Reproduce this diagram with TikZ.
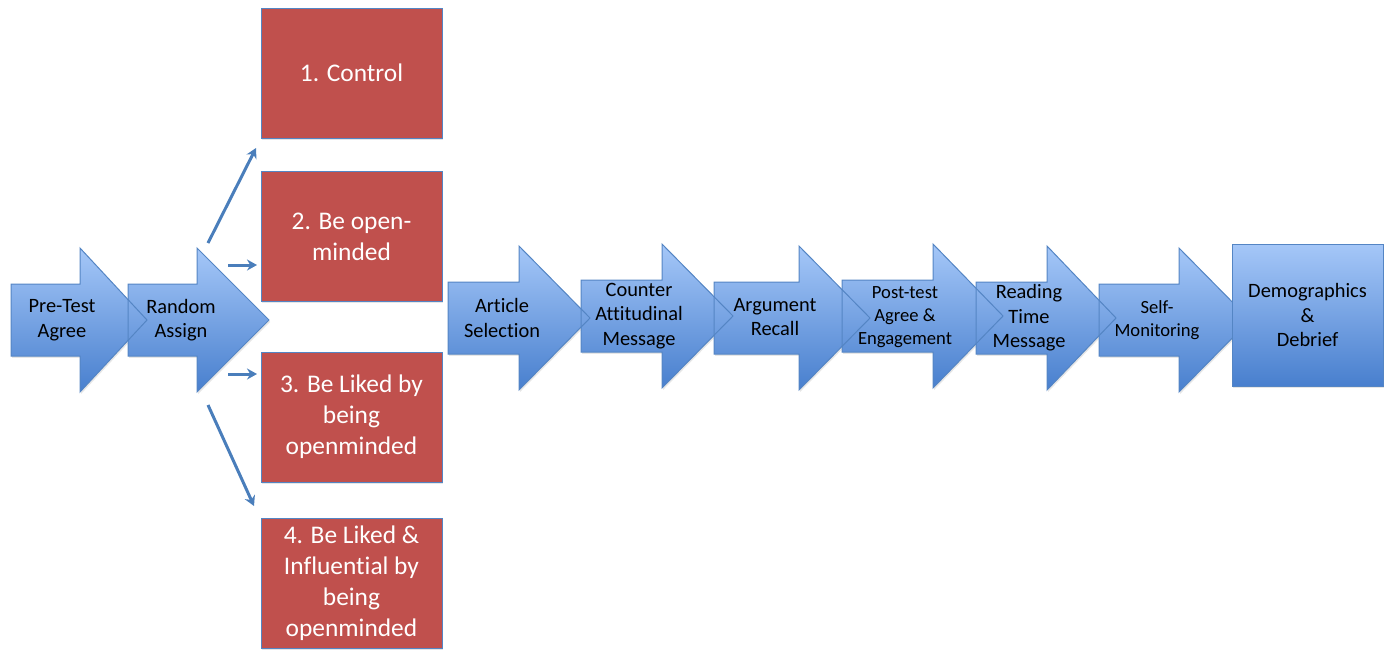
\documentclass[tikz,border=0pt]{standalone}
\usepackage{fontspec}
\setmainfont{Carlito}[Ligatures=NoCommon]
\usetikzlibrary{arrows.meta,shadows}

\definecolor{stagetop}{RGB}{165,199,248}
\definecolor{stagebot}{RGB}{72,127,206}
\definecolor{stageedge}{RGB}{84,133,196}
\definecolor{condred}{RGB}{192,80,77}
\definecolor{linkblue}{RGB}{74,126,187}

% tail x / head x / tip x / centre y of every step arrow (pixels)
\newcommand{\stagelist}{11/80/147/320, 128/197/269/320, 448/519/590/318,
  581/662/733/316, 714/799/870/318, 842/933/1003/316,
  976/1047/1116/318, 1099/1179/1250/320}

\begin{document}
\begin{tikzpicture}[x=0.5pt, y=-0.5pt, >={Stealth[length=5pt, width=5.5pt]},
    stagefill/.style={top color=stagetop, bottom color=stagebot,
      drop shadow={shadow xshift=0.6pt, shadow yshift=-0.9pt, opacity=0.2}},
    stagetext/.style={align=center, inner sep=0pt,
      font=\fontsize{10.2}{12.2}\selectfont},
    stagesmall/.style={stagetext, font=\fontsize{9.3}{11.6}\selectfont},
    demobox/.style={draw=stageedge, line width=0.5pt, top color=stagetop,
      bottom color=stagebot, minimum width=75.5pt, minimum height=71pt,
      inner sep=0pt, align=center, font=\fontsize{10.2}{12.2}\selectfont,
      drop shadow={shadow xshift=0.6pt, shadow yshift=-0.9pt, opacity=0.2}},
    condbox/.style={draw=stageedge, line width=0.5pt, fill=condred,
      text=white, minimum width=90.5pt, minimum height=65pt, inner sep=0pt,
      align=center, font=\fontsize{12.7}{15.5}\selectfont,
      drop shadow={shadow xshift=0.6pt, shadow yshift=-0.9pt, opacity=0.2}},
    link/.style={->, linkblue, line width=1.5pt}]
    \useasboundingbox (0,0) rectangle (1390,650);

    % Step arrows: fills first, then outlines so every tip stays visible.
    \foreach \l/\b/\t/\y in \stagelist
      \path[stagefill] (\l,\y-36) -- (\b,\y-36) -- (\b,\y-72) -- (\t,\y)
        -- (\b,\y+72) -- (\b,\y+36) -- (\l,\y+36) -- cycle;
    \foreach \l/\b/\t/\y in \stagelist
      \draw[stageedge, line width=0.5pt, line join=miter] (\l,\y-36) -- (\b,\y-36)
        -- (\b,\y-72) -- (\t,\y) -- (\b,\y+72) -- (\b,\y+36) -- (\l,\y+36) -- cycle;

    \node[stagetext] (pre) at (62,320) {Pre-Test\\Agree};
    \node[stagetext] (rand) at (181,320) {Random\\Assign};
    \node[stagetext] (art) at (502,318) {Article\\Selection};
    \node[stagetext] (cnt) at (639,316) {Counter\\Attitudinal\\Message};
    \node[stagetext] (arg) at (775,317) {Argument\\Recall};
    \node[stagesmall] (post) at (905,317) {Post-test\\Agree \&\\Engagement};
    \node[stagetext] (read) at (1029,318) {Reading\\Time\\Message};
    \node[stagesmall] (self) at (1157,320) {Self-\\Monitoring};
    \node[demobox] (demo) at (1307.5,315) {Demographics\\\&\\Debrief};

    % The four conditions.
    \node[condbox] (c1) at (351.5,73) {1. Control};
    \node[condbox] (c2) at (351.5,236.5) {2. Be open-\\minded};
    \node[condbox] (c3) at (351.5,417) {3. Be Liked by\\being\\openminded};
    \node[condbox] (c4) at (351.5,583) {4. Be Liked \&\\Influential by\\being\\openminded};

    \coordinate (r1) at (208,243);
    \coordinate (g1) at (256,148);
    \coordinate (r2) at (228,265);
    \coordinate (g2) at (257,265);
    \coordinate (r3) at (228,374);
    \coordinate (g3) at (257,374);
    \coordinate (r4) at (208,405);
    \coordinate (g4) at (254,506);
    \draw[link] (r1) -- (g1);
    \draw[link] (r2) -- (g2);
    \draw[link] (r3) -- (g3);
    \draw[link] (r4) -- (g4);
\end{tikzpicture}
\end{document}
